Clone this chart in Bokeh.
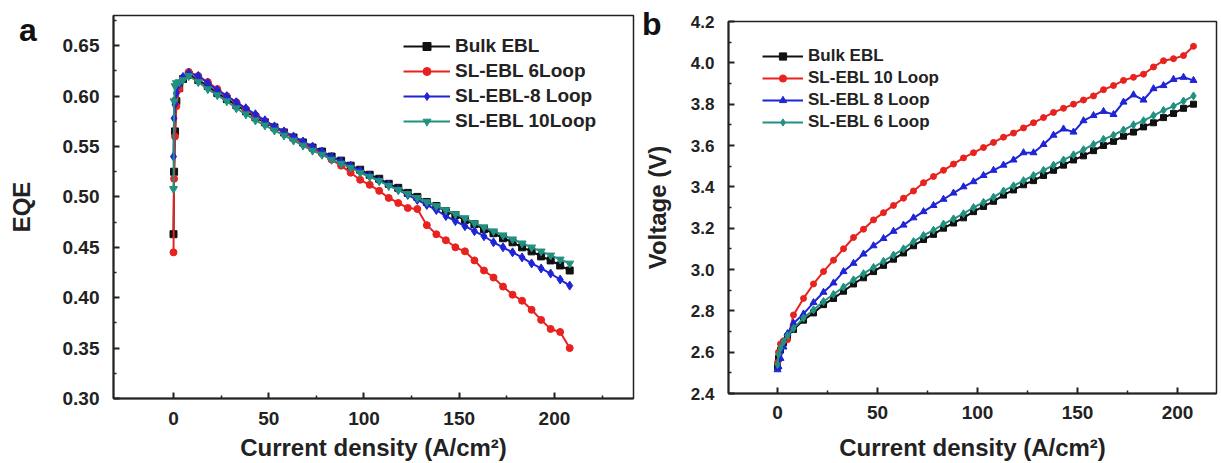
from bokeh.plotting import figure
from bokeh.models import FixedTicker, Legend, LegendItem, NumeralTickFormatter, Div
from bokeh.embed import file_html
from bokeh.resources import INLINE

# ---------------- Panel a: EQE vs current density ----------------
eqe_current = [0, 0.3, 0.8, 1.5, 3, 5, 8, 13, 18, 23, 28, 33, 38, 43, 48, 53, 58, 63, 68, 73, 78,
               83, 88, 93, 98, 103, 108, 113, 118, 123, 128, 133, 138, 143, 148, 153, 158, 163,
               168, 173, 178, 183, 188, 193, 198, 203, 208]
eqe_bulk = [0.463, 0.525, 0.565, 0.595, 0.608, 0.617, 0.621, 0.616, 0.610, 0.603, 0.597, 0.591,
            0.585, 0.579, 0.574, 0.569, 0.564, 0.559, 0.554, 0.549, 0.545, 0.540, 0.536, 0.531,
            0.527, 0.522, 0.518, 0.513, 0.509, 0.504, 0.500, 0.495, 0.491, 0.486, 0.482, 0.477,
            0.473, 0.468, 0.464, 0.459, 0.455, 0.450, 0.446, 0.441, 0.437, 0.432, 0.427]
eqe_6loop = [0.445, 0.518, 0.560, 0.590, 0.607, 0.618, 0.624, 0.620, 0.614, 0.607, 0.600, 0.594,
             0.587, 0.581, 0.575, 0.569, 0.564, 0.558, 0.553, 0.548, 0.543, 0.537, 0.531, 0.524,
             0.517, 0.512, 0.506, 0.499, 0.494, 0.489, 0.488, 0.472, 0.463, 0.457, 0.450, 0.446,
             0.437, 0.427, 0.420, 0.411, 0.403, 0.397, 0.388, 0.378, 0.369, 0.366, 0.350]
eqe_8loop = [0.540, 0.578, 0.592, 0.603, 0.612, 0.619, 0.623, 0.620, 0.613, 0.606, 0.600, 0.594,
             0.588, 0.582, 0.576, 0.570, 0.565, 0.560, 0.555, 0.550, 0.545, 0.540, 0.535, 0.531,
             0.526, 0.521, 0.516, 0.512, 0.507, 0.502, 0.497, 0.492, 0.487, 0.481, 0.476, 0.471,
             0.466, 0.461, 0.455, 0.450, 0.445, 0.440, 0.434, 0.429, 0.424, 0.418, 0.412]
eqe_10loop = [0.508, 0.595, 0.610, 0.613, 0.614, 0.616, 0.620, 0.614, 0.607, 0.601, 0.595, 0.588,
              0.582, 0.576, 0.571, 0.566, 0.561, 0.556, 0.551, 0.546, 0.542, 0.537, 0.533, 0.529,
              0.524, 0.520, 0.516, 0.511, 0.507, 0.503, 0.499, 0.495, 0.491, 0.487, 0.483, 0.479,
              0.474, 0.470, 0.466, 0.462, 0.458, 0.454, 0.450, 0.446, 0.442, 0.438, 0.434]

# ---------------- Panel b: Voltage vs current density ----------------
volt_current = [0, 0.5, 1.5, 3, 5, 8, 13, 18, 23, 28, 33, 38, 43, 48, 53, 58, 63, 68, 73, 78,
                83, 88, 93, 98, 103, 108, 113, 118, 123, 128, 133, 138, 143, 148, 153, 158, 163,
                168, 173, 178, 183, 188, 193, 198, 203, 208]
volt_bulk = [2.53, 2.57, 2.61, 2.645, 2.675, 2.71, 2.755, 2.79, 2.83, 2.86, 2.895, 2.93, 2.96,
             2.99, 3.02, 3.05, 3.08, 3.115, 3.145, 3.17, 3.20, 3.225, 3.25, 3.28, 3.305, 3.33,
             3.36, 3.385, 3.41, 3.43, 3.455, 3.48, 3.505, 3.53, 3.55, 3.575, 3.60, 3.62, 3.645,
             3.665, 3.69, 3.71, 3.735, 3.755, 3.78, 3.80]
volt_10loop = [2.55, 2.60, 2.64, 2.655, 2.66, 2.78, 2.86, 2.93, 2.99, 3.045, 3.10, 3.155, 3.195,
               3.24, 3.275, 3.31, 3.345, 3.38, 3.42, 3.45, 3.48, 3.51, 3.54, 3.565, 3.59, 3.615,
               3.64, 3.66, 3.685, 3.71, 3.735, 3.76, 3.78, 3.80, 3.82, 3.84, 3.87, 3.89, 3.915,
               3.93, 3.945, 3.98, 4.01, 4.02, 4.035, 4.08]
volt_8loop = [2.515, 2.53, 2.57, 2.625, 2.69, 2.74, 2.785, 2.84, 2.89, 2.935, 2.99, 3.03, 3.075,
              3.115, 3.15, 3.185, 3.215, 3.25, 3.28, 3.31, 3.34, 3.37, 3.40, 3.425, 3.455, 3.48,
              3.505, 3.53, 3.565, 3.565, 3.605, 3.65, 3.68, 3.665, 3.72, 3.745, 3.765, 3.75, 3.81,
              3.845, 3.82, 3.875, 3.89, 3.92, 3.93, 3.915]
volt_6loop = [2.54, 2.59, 2.62, 2.65, 2.68, 2.715, 2.765, 2.805, 2.845, 2.88, 2.915, 2.95, 2.98,
              3.01, 3.04, 3.07, 3.10, 3.135, 3.165, 3.19, 3.22, 3.245, 3.27, 3.30, 3.325, 3.35,
              3.38, 3.405, 3.43, 3.455, 3.48, 3.505, 3.53, 3.555, 3.58, 3.605, 3.63, 3.65, 3.675,
              3.70, 3.72, 3.745, 3.77, 3.79, 3.815, 3.84]

FONT = "Liberation Sans"
TXT = "#222222"
BLACK, RED, BLUE, TEAL = "#111111", "#e8221e", "#1f24d6", "#229080"


def style(p, xlabel, ylabel, ytick_size, xs1, xs2, ys1, ys2):
    for ax in (p.xaxis[0], p.yaxis[0]):
        ax.axis_line_width = 2
        ax.axis_line_color = "#222222"
        ax.major_tick_in = 6
        ax.major_tick_out = 0
        ax.minor_tick_in = 3
        ax.minor_tick_out = 0
        ax.major_tick_line_width = 2
        ax.minor_tick_line_width = 1.5
        ax.major_tick_line_color = "#222222"
        ax.minor_tick_line_color = "#222222"
        ax.major_label_text_font = FONT
        ax.major_label_text_font_style = "bold"
        ax.major_label_text_color = TXT
        ax.axis_label_text_font = FONT
        ax.axis_label_text_font_style = "bold"
        ax.axis_label_text_font_size = "24px"
        ax.axis_label_text_color = TXT
    p.xaxis[0].major_label_text_font_size = "19px"
    p.yaxis[0].major_label_text_font_size = ytick_size
    p.xaxis[0].axis_label = xlabel
    p.yaxis[0].axis_label = ylabel
    p.xaxis[0].major_label_standoff = xs1
    p.xaxis[0].axis_label_standoff = xs2
    p.yaxis[0].major_label_standoff = ys1
    p.yaxis[0].axis_label_standoff = ys2
    p.xgrid.visible = False
    p.ygrid.visible = False
    p.outline_line_color = "#222222"
    p.outline_line_width = 1.5
    p.outline_line_alpha = 1
    p.background_fill_color = "white"
    p.border_fill_color = "white"


# ---------- panel a ----------
p1 = figure(width=640, height=463, x_range=(-31.5, 241.5), y_range=(0.30, 0.68),
            output_backend="svg", toolbar_location=None,
            min_border_left=113, min_border_right=7, min_border_top=15, min_border_bottom=65)
p1.xaxis.ticker = FixedTicker(ticks=[0, 50, 100, 150, 200], minor_ticks=[25, 75, 125, 175, 225])
p1.yaxis.ticker = FixedTicker(ticks=[0.30, 0.35, 0.40, 0.45, 0.50, 0.55, 0.60, 0.65],
                              minor_ticks=[0.325, 0.375, 0.425, 0.475, 0.525, 0.575, 0.625, 0.675])
p1.yaxis.formatter = NumeralTickFormatter(format="0.00")
style(p1, "Current density (A/cm²)", "EQE", "19px", 13, 6, 14, 25)

series_a = [
    ("Bulk EBL", eqe_bulk, BLACK, "square", 7),
    ("SL-EBL 6Loop", eqe_6loop, RED, "circle", 7),
    ("SL-EBL-8 Loop", eqe_8loop, BLUE, "diamond", 9),
    ("SL-EBL 10Loop", eqe_10loop, TEAL, "inverted_triangle", 8),
]
items_a = []
for name, ys, col, mk, sz in series_a:
    l = p1.line(eqe_current, ys, line_color=col, line_width=2)
    s = p1.scatter(eqe_current, ys, marker=mk, size=sz, fill_color=col, line_color=col)
    items_a.append(LegendItem(label=name, renderers=[l, s]))
leg_a = Legend(items=items_a, location=(290, 265), padding=0, margin=0, spacing=0,
               label_height=25, glyph_height=20, glyph_width=47, label_standoff=5,
               border_line_alpha=0, background_fill_alpha=0,
               label_text_font=FONT, label_text_font_style="bold",
               label_text_font_size="19px", label_text_color=TXT)
p1.add_layout(leg_a, "center")

# ---------- panel b ----------
p2 = figure(width=580, height=463, x_range=(-24.5, 219.5), y_range=(2.4, 4.2),
            output_backend="svg", toolbar_location=None,
            min_border_left=88, min_border_right=4, min_border_top=21, min_border_bottom=70)
p2.xaxis.ticker = FixedTicker(ticks=[0, 50, 100, 150, 200], minor_ticks=[25, 75, 125, 175])
p2.yaxis.ticker = FixedTicker(ticks=[2.4, 2.6, 2.8, 3.0, 3.2, 3.4, 3.6, 3.8, 4.0, 4.2],
                              minor_ticks=[2.5, 2.7, 2.9, 3.1, 3.3, 3.5, 3.7, 3.9, 4.1])
p2.yaxis.formatter = NumeralTickFormatter(format="0.0")
style(p2, "Current density (A/cm²)", "Voltage (V)", "17px", 12, 12, 14, 17)

series_b = [
    ("Bulk EBL", volt_bulk, BLACK, "square", 6),
    ("SL-EBL 10 Loop", volt_10loop, RED, "circle", 6),
    ("SL-EBL 8 Loop", volt_8loop, BLUE, "triangle", 7),
    ("SL-EBL 6 Loop", volt_6loop, TEAL, "diamond", 8),
]
items_b = []
for name, ys, col, mk, sz in series_b:
    l = p2.line(volt_current, ys, line_color=col, line_width=2)
    s = p2.scatter(volt_current, ys, marker=mk, size=sz, fill_color=col, line_color=col)
    items_b.append(LegendItem(label=name, renderers=[l, s]))
leg_b = Legend(items=items_b, location=(34, 260), padding=0, margin=0, spacing=0,
               label_height=22, glyph_height=18, glyph_width=41, label_standoff=5,
               border_line_alpha=0, background_fill_alpha=0,
               label_text_font=FONT, label_text_font_style="bold",
               label_text_font_size="17px", label_text_color=TXT)
p2.add_layout(leg_b, "center")

# ---------- panel letters ----------
LETTER_STYLE = {"position": "absolute", "font-family": FONT, "font-weight": "bold",
                "font-size": "32px", "color": "#111111", "line-height": "normal"}
tag_a = Div(text="a", styles=dict(LETTER_STYLE, left="14px", top="7px"))
tag_b = Div(text="b", styles=dict(LETTER_STYLE, left="637px", top="1px"))

TEMPLATE = """
{% block postamble %}
<style>
  html, body { margin: 0 !important; padding: 0 !important; overflow: hidden; }
  body { display: flex !important; flex-direction: row; align-items: flex-start; }
</style>
{% endblock %}
"""

open("out.html", "w").write(file_html([p1, p2, tag_a, tag_b], INLINE, template=TEMPLATE))
